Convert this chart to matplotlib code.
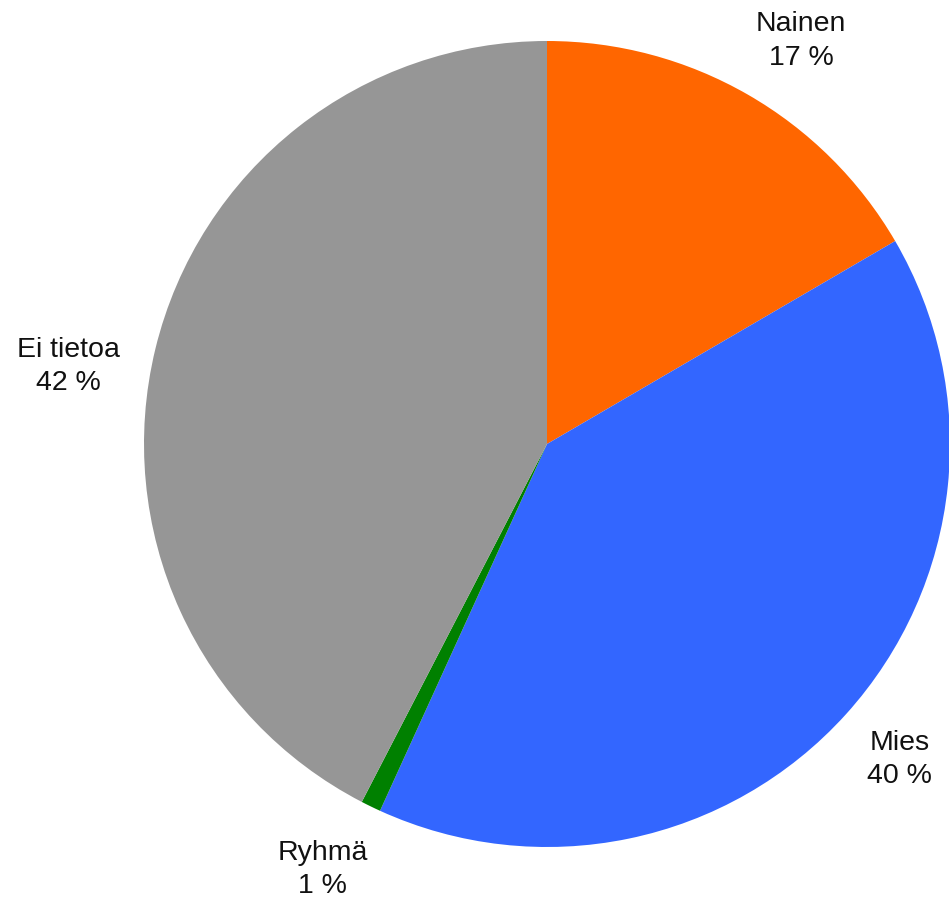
import numpy as np
import matplotlib
matplotlib.use('Agg')
import matplotlib.pyplot as plt

categories = ['Nainen', 'Mies', 'Ryhmä', 'Ei tietoa']
shares = [16.6, 40.2, 0.8, 42.4]
colors = ['#FF6600', '#3366FF', '#008000', '#969696']

plt.rcParams['font.family'] = ['Liberation Sans', 'DejaVu Sans']

W, H = 949, 899
cx, cy, R = 547, 444, 403

# label nudges in pixels (x right, y up) from the mid-angle spot
nudges = [(15, -13), (-3, 6), (-15, 6), (-13, -36)]

fig = plt.figure(figsize=(W / 100, H / 100), dpi=100)
ax = fig.add_axes([0, 0, 1, 1])

labels = ['%s\n%d %%' % (c, round(v)) for c, v in zip(categories, shares)]
wedges, texts = ax.pie(shares, colors=colors, labels=labels, startangle=90,
                       counterclock=False, labeldistance=1.19,
                       wedgeprops=dict(linewidth=0))
for t, (nx, ny) in zip(texts, nudges):
    x, y = t.get_position()
    t.set_position((x + nx / R, y + ny / R))
    t.set_ha('center')
    t.set_va('center')
    t.set_fontsize(20.5)
    t.set_color('#111111')
    t.set_linespacing(1.38)

# pixel-matched limits
ax.set_xlim(-cx / R, (W - cx) / R)
ax.set_ylim(-(H - cy) / R, cy / R)
ax.set_aspect('auto')
ax.axis('off')

fig.savefig('out.png', dpi=100)
